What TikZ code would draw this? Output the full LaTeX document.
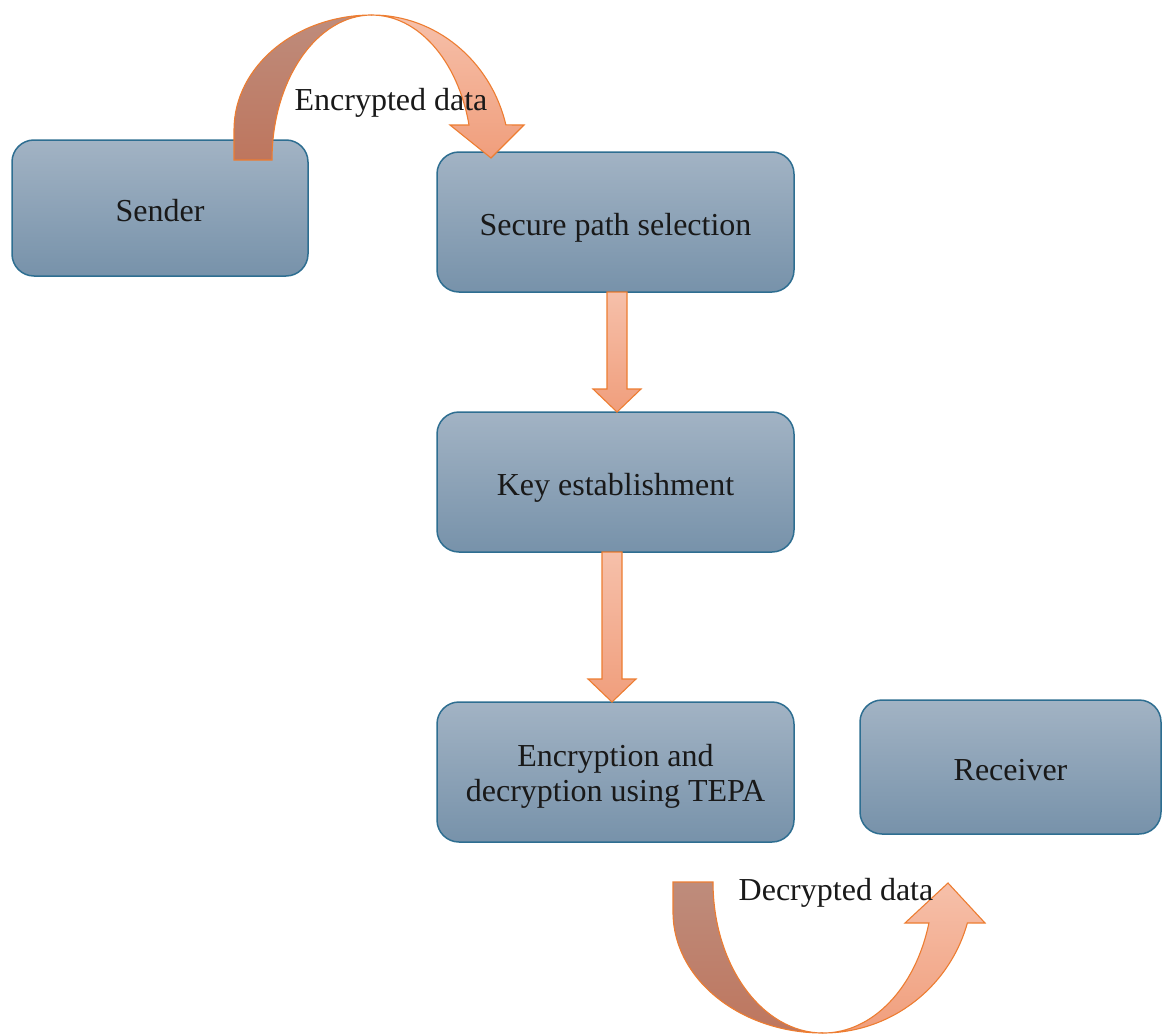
\documentclass[tikz,border=0pt]{standalone}
\usepackage{fontspec}
\setmainfont{Liberation Serif}
\usetikzlibrary{calc}
\definecolor{boxtop}{RGB}{162,179,196}
\definecolor{boxbot}{RGB}{119,146,170}
\definecolor{boxline}{RGB}{46,110,145}
\definecolor{arrline}{RGB}{237,125,49}
\definecolor{lighttop}{RGB}{246,192,170}
\definecolor{lightbot}{RGB}{240,158,124}
\definecolor{darktop}{RGB}{190,140,124}
\definecolor{darkbot}{RGB}{190,118,94}
\definecolor{txt}{RGB}{25,25,25}
\tikzset{
  box/.style={draw=boxline, line width=1.5pt, top color=boxtop, bottom color=boxbot,
    rounded corners=22pt, inner sep=0pt, outer sep=0pt, align=center,
    font=\fontsize{32}{35}\selectfont, text=txt, text height=26pt, text depth=0pt},
  lightpart/.style={draw=arrline, line width=1.1pt, top color=lighttop, bottom color=lightbot, line join=miter},
  darkpart/.style={draw=arrline, line width=1.1pt, top color=darktop, bottom color=darkbot},
  lbl/.style={font=\fontsize{32}{35}\selectfont, text=txt, inner sep=0pt}
}
\newcommand\dnarrow[3]{% from, to, x offset (pt)
  \path[lightpart] let \p1=(#1.south), \p2=(#2.north) in
    (\x1+#3pt-10pt,\y1) -- (\x1+#3pt+10pt,\y1) -- (\x1+#3pt+10pt,\y2+23pt)
    -- (\x1+#3pt+24pt,\y2+23pt) -- (\x1+#3pt,\y2) -- (\x1+#3pt-24pt,\y2+23pt)
    -- (\x1+#3pt-10pt,\y2+23pt) -- cycle;}
\begin{document}
\begin{tikzpicture}[x=1pt,y=-1pt]
\useasboundingbox (0,0) rectangle (1162,1036);

\node[box, minimum width=296, minimum height=136] (sender) at (160,208) {Sender};
\node[box, minimum width=357, minimum height=140] (sps) at (615.5,222) {Secure path selection};
\node[box, minimum width=357, minimum height=140] (key) at (615.5,482) {Key establishment};
\node[box, minimum width=357, minimum height=140, text height=65pt, text depth=7pt] (enc) at (615.5,772) {Encryption and\\decryption using TEPA};
\node[box, minimum width=301, minimum height=134] (recv) at (1010.5,767) {Receiver};

\dnarrow{sps}{key}{1.5}
\dnarrow{key}{enc}{-3.5}

% top curved arrow (sender -> secure path selection)
\path[darkpart] (234,160) -- (234,130) arc[start angle=180,end angle=270,x radius=138,y radius=115]
  arc[start angle=270,end angle=180,x radius=100,y radius=145] -- cycle;
\path[lightpart] (372,15) arc[start angle=270,end angle=346,x radius=138,y radius=145]
  -- (524,125) -- (491,158) -- (450,125) -- (469,125)
  arc[start angle=346,end angle=270,x radius=100,y radius=145] -- cycle;
\node[lbl] (enclbl) at (391,103) {Encrypted data};

% bottom curved arrow (encryption -> receiver)
\path[darkpart] (673,882) -- (673,912) arc[start angle=180,end angle=90,x radius=150,y radius=121]
  arc[start angle=90,end angle=180,x radius=110,y radius=151] -- cycle;
\path[lightpart] (823,1033) arc[start angle=90,end angle=15.75,x radius=150,y radius=151]
  -- (985,923) -- (948,883) -- (905,923) -- (928.9,923)
  arc[start angle=15.75,end angle=90,x radius=110,y radius=151] -- cycle;
\node[lbl] (declbl) at (836,893) {Decrypted data};
\end{tikzpicture}
\end{document}
